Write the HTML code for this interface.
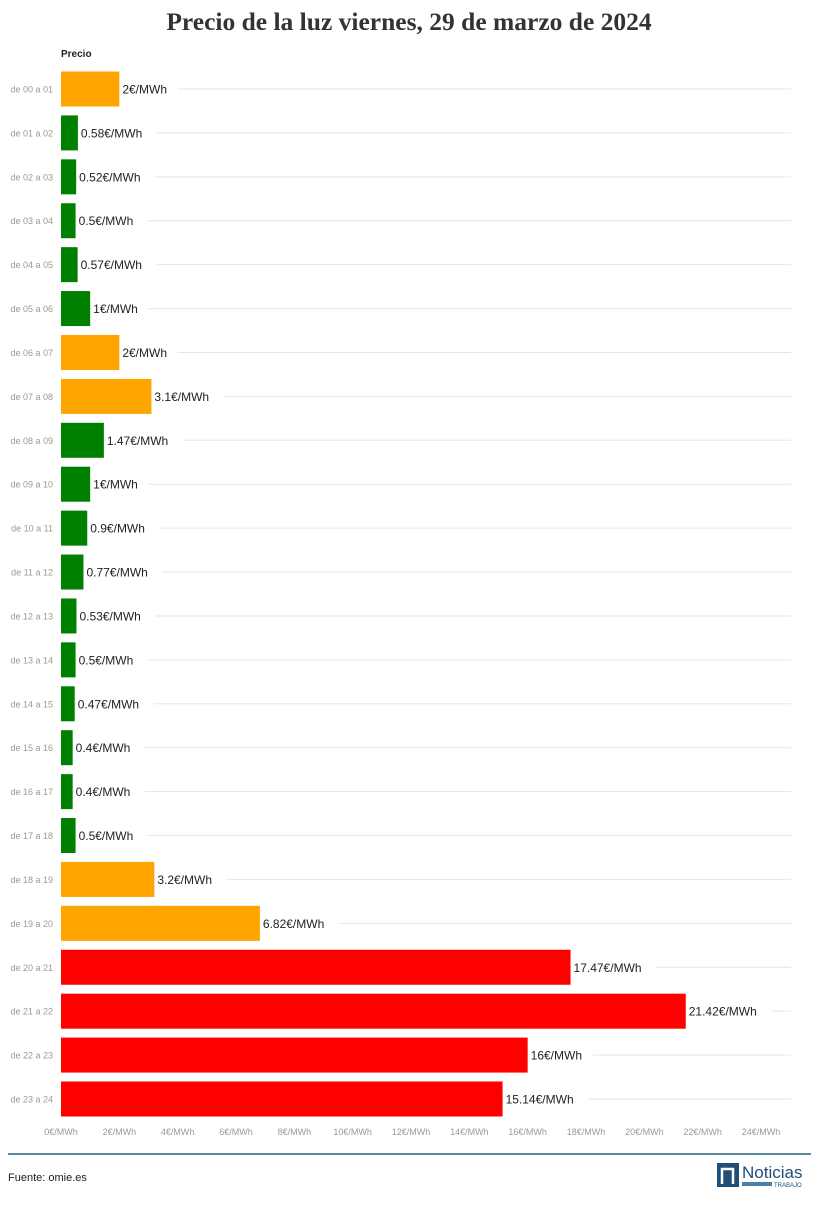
<!DOCTYPE html>
<html><head><meta charset="utf-8"><style>
body{margin:0;width:819px;height:1200px;background:#fff;font-family:"Liberation Sans",sans-serif;overflow:hidden}
</style></head><body>
<svg id="chart" width="819" height="1200" xmlns="http://www.w3.org/2000/svg">
<text x="409" y="30" text-anchor="middle" font-family="Liberation Serif,serif" font-weight="bold" font-size="25.5" fill="#333">Precio de la luz viernes, 29 de marzo de 2024</text>
<text x="61" y="57" font-size="10" font-weight="bold" fill="#222">Precio</text>
<g id="grid"></g><g id="bars"></g><g id="xaxis"></g>
<line x1="8" y1="1154" x2="811" y2="1154" stroke="#5b8aa0" stroke-width="2"/>
<text x="8" y="1181" font-size="11" fill="#222">Fuente: omie.es</text>
<g>
<rect x="717" y="1163" width="22" height="24" fill="#1f4e79"/>
<path d="M722 1184 V1169 H733 V1184" stroke="#fff" stroke-width="2.5" fill="none"/>
<text x="742" y="1178" font-size="17" fill="#1f4e79">Noticias</text>
<rect x="742" y="1182" width="30" height="4" fill="#4a7fa8"/>
<text x="774" y="1187" font-size="6" fill="#1f4e79">TRABAJO</text>
</g>
</svg>
<script>
const categories=["de 00 a 01","de 01 a 02","de 02 a 03","de 03 a 04","de 04 a 05","de 05 a 06","de 06 a 07","de 07 a 08","de 08 a 09","de 09 a 10","de 10 a 11","de 11 a 12","de 12 a 13","de 13 a 14","de 14 a 15","de 15 a 16","de 16 a 17","de 17 a 18","de 18 a 19","de 19 a 20","de 20 a 21","de 21 a 22","de 22 a 23","de 23 a 24"];
const values=[2,0.58,0.52,0.5,0.57,1,2,3.1,1.47,1,0.9,0.77,0.53,0.5,0.47,0.4,0.4,0.5,3.2,6.82,17.47,21.42,16,15.14];
const levels=["mid","low","low","low","low","low","mid","mid","low","low","low","low","low","low","low","low","low","low","mid","mid","high","high","high","high"];
const ticks=[0,2,4,6,8,10,12,14,16,18,20,22,24];
const NS="http://www.w3.org/2000/svg";
const colorOf={low:"#008000",mid:"#FFA500",high:"#FF0000"};
const x=v=>61+v*(700/24);
const y=i=>89+i*(1010/23);
const bh=35;
function mk(t,a,p){const e=document.createElementNS(NS,t);for(const k in a)e.setAttribute(k,a[k]);p.appendChild(e);return e;}
const grid=document.getElementById('grid'),bars=document.getElementById('bars'),xa=document.getElementById('xaxis');
categories.forEach((c,i)=>{
  const g=mk('line',{x1:61,x2:791,y1:y(i),y2:y(i),stroke:"#e6e6e6","stroke-width":1},grid);
  
  
  const l=mk('text',{x:53,y:y(i)+3.5,"text-anchor":"end","font-size":9,fill:"#999"},grid);
  l.textContent=c;
  
  
  const r=mk('rect',{x:x(0),y:y(i)-bh/2,width:x(values[i])-x(0),height:bh,fill:colorOf[levels[i]]},bars);
  
  
  const bg=mk('rect',{x:x(values[i])+1,y:y(i)-8,width:String(values[i]).length*7+50,height:16,fill:"#fff"},bars);
  const t=mk('text',{x:x(values[i])+3,y:y(i)+4.5,"font-size":12,fill:"#222"},bars);
  t.textContent=values[i]+"€/MWh";
  
  
});
ticks.forEach(v=>{
  const t=mk('text',{x:x(v),y:1135,"text-anchor":"middle","font-size":9,fill:"#999"},xa);
  t.textContent=v+"€/MWh";
  
  
});
</script>
</body></html>
